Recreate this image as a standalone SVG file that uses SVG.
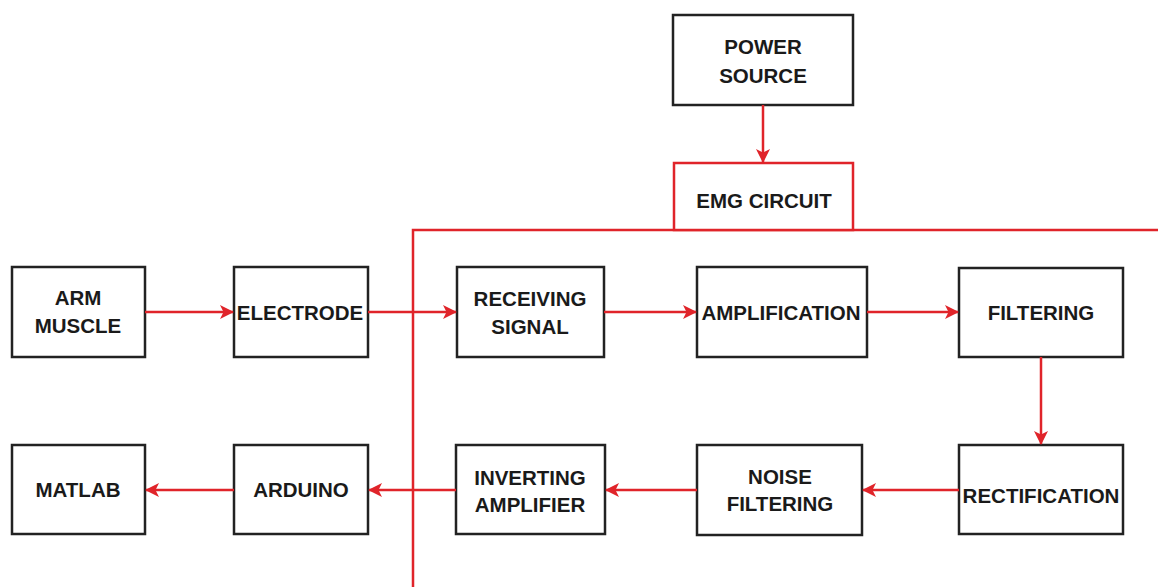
<svg xmlns="http://www.w3.org/2000/svg" width="1158" height="587" viewBox="0 0 1158 587">
<style>
.box{fill:#fff;stroke:#222;stroke-width:2.5}
.rbox{fill:#fff;stroke:#e0242a;stroke-width:2.5}
.lbl{font-family:"Liberation Sans",Arial,sans-serif;font-weight:bold;font-size:20.5px;fill:#1a1a1a;text-anchor:middle}
.wire{fill:none;stroke:#e0242a;stroke-width:2.5}
.conn{fill:none;stroke:#e0242a;stroke-width:2.5;marker-end:url(#ah)}
</style>
<defs>
<marker id="ah" viewBox="0 0 14 14" refX="13" refY="7" markerWidth="14" markerHeight="14" markerUnits="userSpaceOnUse" orient="auto">
<path d="M0,0 L14,7 L0,14 L3.5,7 Z" fill="#e0242a"/>
</marker>
</defs>
<rect width="1158" height="587" fill="#fff"/>
<g id="emg-frame">
<path class="wire" d="M413,587 V230 H1158"/>
</g>
<g id="power-source">
<rect class="box" x="673" y="15" width="180" height="90"/>
<text class="lbl" x="763" y="54">POWER</text>
<text class="lbl" x="763" y="83">SOURCE</text>
</g>
<g id="emg-circuit">
<rect class="rbox" x="674" y="163" width="179" height="67"/>
<text class="lbl" x="764" y="208">EMG CIRCUIT</text>
</g>
<g id="arm-muscle">
<rect class="box" x="12" y="267" width="133" height="90"/>
<text class="lbl" x="78" y="305">ARM</text>
<text class="lbl" x="78" y="333">MUSCLE</text>
</g>
<g id="electrode">
<rect class="box" x="234" y="267" width="134" height="90"/>
<text class="lbl" x="300" y="320">ELECTRODE</text>
</g>
<g id="receiving-signal">
<rect class="box" x="457" y="267" width="147" height="90"/>
<text class="lbl" x="530" y="306">RECEIVING</text>
<text class="lbl" x="530" y="334">SIGNAL</text>
</g>
<g id="amplification">
<rect class="box" x="697" y="267" width="170" height="90"/>
<text class="lbl" x="781" y="320">AMPLIFICATION</text>
</g>
<g id="filtering">
<rect class="box" x="959" y="268" width="164" height="89"/>
<text class="lbl" x="1041" y="320">FILTERING</text>
</g>
<g id="rectification">
<rect class="box" x="959" y="445" width="164" height="89"/>
<text class="lbl" x="1041" y="503">RECTIFICATION</text>
</g>
<g id="noise-filtering">
<rect class="box" x="697" y="445" width="165" height="90"/>
<text class="lbl" x="780" y="484">NOISE</text>
<text class="lbl" x="780" y="511">FILTERING</text>
</g>
<g id="inverting-amplifier">
<rect class="box" x="456" y="445" width="149" height="89"/>
<text class="lbl" x="530" y="485">INVERTING</text>
<text class="lbl" x="530" y="512">AMPLIFIER</text>
</g>
<g id="arduino">
<rect class="box" x="234" y="445" width="134" height="89"/>
<text class="lbl" x="301" y="497">ARDUINO</text>
</g>
<g id="matlab">
<rect class="box" x="12" y="445" width="133" height="89"/>
<text class="lbl" x="78" y="497">MATLAB</text>
</g>
<g id="connectors">
<path class="conn" d="M763,105 V162"/>
<path class="conn" d="M145,312 H233"/>
<path class="conn" d="M368,312 H456"/>
<path class="conn" d="M604,312 H696"/>
<path class="conn" d="M867,312 H958"/>
<path class="conn" d="M1041,357 V444"/>
<path class="conn" d="M959,490 H863"/>
<path class="conn" d="M697,490 H606"/>
<path class="conn" d="M456,490 H369"/>
<path class="conn" d="M234,490 H146"/>
</g>
</svg>
